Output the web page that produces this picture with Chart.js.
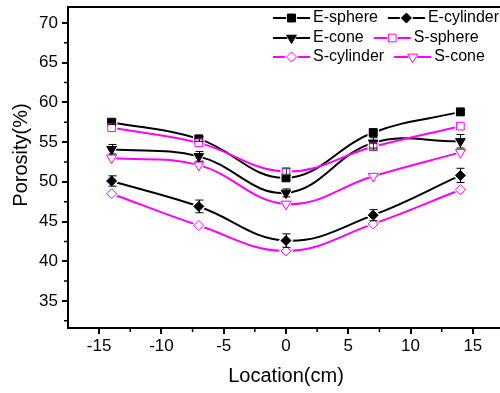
<!DOCTYPE html>
<html><head><meta charset="utf-8">
<script src="https://cdn.jsdelivr.net/npm/chart.js@4/dist/chart.umd.min.js"></script>
<style>html,body{margin:0;padding:0;background:#fff;overflow:hidden;width:500px;height:393px}
#wrap{width:504px;height:393px;position:relative}
canvas{display:block}</style></head>
<body><div id="wrap"><canvas id="c" width="504" height="393"></canvas></div>
<script>
// ---- data ----
const locations = [-14, -7, 0, 7, 14];
const seriesNames = ['E-sphere', 'E-cylinder', 'E-cone', 'S-sphere', 'S-cylinder', 'S-cone'];
const eSphere   = [57.5, 55.4, 50.5, 56.2, 58.8];
const eCylinder = [50.1, 46.9, 42.6, 45.8, 50.8];
const eCone     = [54.1, 53.2, 48.6, 54.9, 55.1];
const sSphere   = [56.8, 54.9, 51.3, 54.4, 57.0];
const sCylinder = [48.5, 44.5, 41.3, 44.7, 49.0];
const sCone     = [53.0, 52.1, 47.2, 50.7, 53.7];
const eSphereErr   = [0.3, 0.3, 0.3, 0.3, 0.3];
const eCylinderErr = [0.65, 0.8, 0.85, 0.7, 0.9];
const eConeErr     = [0.6, 0.6, 0.5, 0.65, 0.85];
const sSphereErr   = [0, 0, 0.35, 0.4, 0];
const sCylinderErr = [0, 0, 0, 0, 0];
const sConeErr     = [0, 0, 0, 0, 0];
const xTicks = [-15, -10, -5, 0, 5, 10, 15];
const yTicks = [35, 40, 45, 50, 55, 60, 65, 70];

const seriesValues = [eSphere, eCylinder, eCone, sSphere, sCylinder, sCone];
const seriesErrors = [eSphereErr, eCylinderErr, eConeErr, sSphereErr, sCylinderErr, sConeErr];

// ---- styles ----
const MAG = '#ff00ff';
const styles = [
  {color: '#000', style: 'rect', rot: 0, filled: true, r: 5.6},
  {color: '#000', style: 'rectRot', rot: 0, filled: true, r: 5},
  {color: '#000', style: 'triangle', rot: 180, filled: true, r: 5.6},
  {color: MAG, style: 'rect', rot: 0, filled: false, r: 5.4},
  {color: MAG, style: 'rectRot', rot: 0, filled: false, r: 5},
  {color: MAG, style: 'triangle', rot: 180, filled: false, r: 5.8}
];
const FONT = "'Liberation Sans', Arial, sans-serif";
Chart.defaults.font.family = FONT;
Chart.defaults.color = '#000';

const pts = vals => locations.map((x, i) => ({x: x, y: vals[i]}));
const datasets = [];
seriesValues.forEach((vals, i) => {
  const s = styles[i];
  datasets.push({label: seriesNames[i], data: pts(vals), borderColor: s.color, borderWidth: 2,
    tension: 0.4, pointRadius: 0, fill: false, order: 30 - i});
  datasets.push({label: seriesNames[i] + ' halo', data: pts(vals), showLine: false,
    pointStyle: s.style, pointRotation: s.rot, pointRadius: s.r + 2.5,
    pointBackgroundColor: '#fff', pointBorderColor: '#fff', pointBorderWidth: 0, order: 20 - i});
  datasets.push({label: seriesNames[i] + ' marker', data: pts(vals), showLine: false,
    pointStyle: s.style, pointRotation: s.rot, pointRadius: s.r,
    pointBackgroundColor: s.filled ? s.color : '#fff', pointBorderColor: s.color,
    pointBorderWidth: 1, order: 10 - i});
});

const noPad = s => { s.paddingLeft = 0; s.paddingRight = 0; s.paddingTop = 0; s.paddingBottom = 0; };

const decor = {
  id: 'decor',
  afterDatasetsDraw(chart) {
    const ctx = chart.ctx, xs = chart.scales.x, ys = chart.scales.y;
    ctx.save();
    ctx.lineWidth = 1;
    seriesValues.forEach((vals, i) => {
      const errs = seriesErrors[i];
      ctx.strokeStyle = i < 3 ? '#000' : '#333';
      vals.forEach((v, k) => {
        const e = errs[k];
        if (!e) return;
        const px = Math.round(xs.getPixelForValue(locations[k])) + 0.5;
        const y1 = ys.getPixelForValue(v + e), y2 = ys.getPixelForValue(v - e);
        ctx.beginPath();
        ctx.moveTo(px, y1); ctx.lineTo(px, y2);
        ctx.moveTo(px - 4, y1); ctx.lineTo(px + 4, y1);
        ctx.moveTo(px - 4, y2); ctx.lineTo(px + 4, y2);
        ctx.stroke();
      });
    });
    ctx.restore();
  },
  afterDraw(chart) {
    const ctx = chart.ctx, a = chart.chartArea, xs = chart.scales.x, ys = chart.scales.y;
    ctx.save();
    // top frame line
    ctx.strokeStyle = '#000'; ctx.lineWidth = 2;
    ctx.beginPath(); ctx.moveTo(a.left - 1, a.top); ctx.lineTo(a.right, a.top); ctx.stroke();
    // minor ticks
    ctx.lineWidth = 1.5;
    ctx.beginPath();
    for (let v = -17.5; v <= 17.5; v += 5) {
      const px = xs.getPixelForValue(v);
      if (px <= a.left + 1 || px >= a.right) continue;
      ctx.moveTo(px, a.bottom); ctx.lineTo(px, a.bottom + 4);
    }
    for (let v = 32.5; v <= 72; v += 5) {
      const py = ys.getPixelForValue(v);
      if (py >= a.bottom - 1 || py <= a.top) continue;
      ctx.moveTo(a.left, py); ctx.lineTo(a.left - 4, py);
    }
    ctx.stroke();
    // y title
    ctx.fillStyle = '#000';
    ctx.font = '20px ' + FONT;
    ctx.textAlign = 'center'; ctx.textBaseline = 'middle';
    ctx.translate(21, 155); ctx.rotate(-Math.PI / 2);
    ctx.fillText('Porosity(%)', 0, 0);
    ctx.restore();

    // legend
    ctx.save();
    ctx.font = '16px ' + FONT;
    ctx.textBaseline = 'middle'; ctx.textAlign = 'left';
    const rowY = [18, 38, 57];
    const lineLen = 37;
    for (let r = 0; r < 3; r++) {
      let x0 = 273;
      for (let c = 0; c < 2; c++) {
        const idx = r * 2 + c, s = styles[idx], y = rowY[r];
        ctx.strokeStyle = s.color; ctx.lineWidth = 2;
        ctx.beginPath(); ctx.moveTo(x0, y); ctx.lineTo(x0 + lineLen, y); ctx.stroke();
        const mx = x0 + lineLen / 2;
        ctx.fillStyle = '#fff';
        Chart.helpers.drawPoint(ctx, {pointStyle: s.style, rotation: s.rot, radius: s.r + 2, borderWidth: 0}, mx, y);
        ctx.fillStyle = s.filled ? s.color : '#fff';
        ctx.strokeStyle = s.color; ctx.lineWidth = 1;
        Chart.helpers.drawPoint(ctx, {pointStyle: s.style, rotation: s.rot, radius: s.r, borderWidth: 1}, mx, y);
        ctx.fillStyle = '#000';
        const tx = x0 + lineLen + 3;
        ctx.fillText(seriesNames[idx], tx, y);
        x0 = tx + ctx.measureText(seriesNames[idx]).width + 10;
      }
    }
    ctx.restore();
  }
};

new Chart(document.getElementById('c'), {
  type: 'line',
  data: {datasets: datasets},
  options: {
    responsive: false, maintainAspectRatio: false, animation: false, events: [],
    layout: {autoPadding: false, padding: {top: 7, right: 0, bottom: 0, left: 0}},
    plugins: {legend: {display: false}, tooltip: {enabled: false}},
    scales: {
      x: {
        type: 'linear', min: -17.5, max: 17.5,
        afterBuildTicks: s => { s.ticks = xTicks.map(v => ({value: v})); },
        afterFit: s => { s.height = 65; noPad(s); },
        grid: {display: true, drawOnChartArea: false, drawTicks: true, tickLength: 6, color: '#000', lineWidth: 2},
        border: {display: true, color: '#000', width: 2},
        ticks: {font: {size: 17}, color: '#000', padding: 2, maxRotation: 0},
        title: {display: true, text: 'Location(cm)', font: {size: 20}, color: '#000', padding: {top: 0, bottom: 5}}
      },
      y: {
        type: 'linear', min: 31.6, max: 72,
        afterBuildTicks: s => { s.ticks = yTicks.map(v => ({value: v})); },
        afterFit: s => { s.width = 68; noPad(s); },
        grid: {display: true, drawOnChartArea: false, drawTicks: true, tickLength: 6, color: '#000', lineWidth: 2},
        border: {display: true, color: '#000', width: 2},
        ticks: {font: {size: 17}, color: '#000', padding: 4}
      }
    }
  },
  plugins: [decor]
});
</script>
</body></html>
